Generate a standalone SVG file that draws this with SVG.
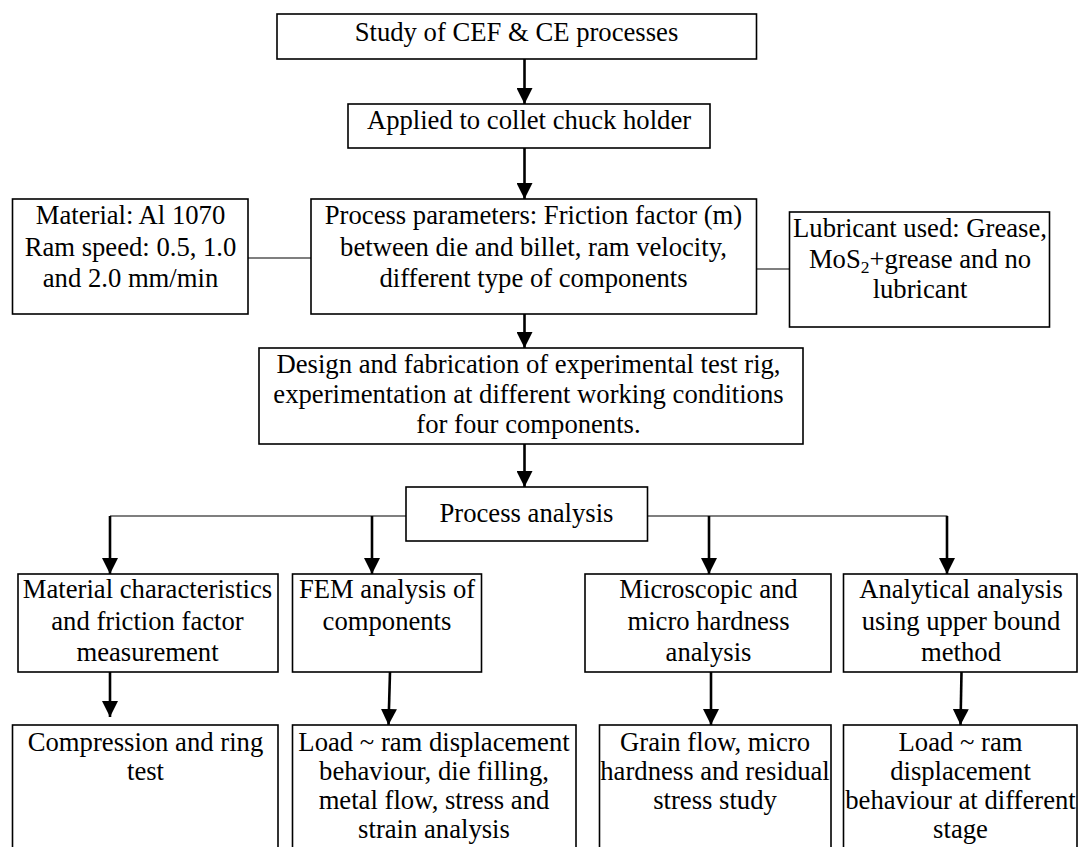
<svg xmlns="http://www.w3.org/2000/svg" width="1081" height="847" viewBox="0 0 1081 847">
<defs>
<style>
.box{fill:#fff;stroke:#000;stroke-width:1.6}
.t{font-family:"Liberation Serif","Times New Roman",serif;font-size:26.67px;fill:#000;text-anchor:middle}
.ln{fill:none;stroke:#000;stroke-width:1.2}
.ar{fill:none;stroke:#000;stroke-width:2.6;marker-end:url(#ah)}
</style>
<marker id="ah" markerUnits="userSpaceOnUse" markerWidth="16" markerHeight="16" viewBox="0 0 16 16" refX="16" refY="8" orient="auto">
<path d="M0,0 L16,8 L0,16 Z" fill="#000"/>
</marker>
</defs>
<rect width="1081" height="847" fill="#fff"/>
<g id="connectors">
<line class="ar" x1="524.5" y1="59" x2="524.5" y2="104"/>
<line class="ar" x1="524.5" y1="148" x2="524.5" y2="199"/>
<line class="ar" x1="524.5" y1="314" x2="524.5" y2="348"/>
<line class="ar" x1="524.5" y1="444" x2="524.5" y2="487"/>
<line class="ln" x1="248" y1="258" x2="311" y2="258"/>
<line class="ln" x1="756" y1="269" x2="789.5" y2="269"/>
<line class="ln" x1="406" y1="516" x2="110" y2="516"/>
<line class="ln" x1="647" y1="516" x2="947.5" y2="516"/>
<line class="ar" x1="110" y1="516" x2="110" y2="574"/>
<line class="ar" x1="372" y1="516" x2="372" y2="574"/>
<line class="ar" x1="709" y1="516" x2="709" y2="574"/>
<line class="ar" x1="947" y1="516" x2="947" y2="574"/>
<line class="ar" x1="110" y1="672" x2="110" y2="717"/>
<line class="ar" x1="390" y1="672" x2="388.5" y2="725"/>
<line class="ar" x1="711" y1="672" x2="711" y2="725"/>
<line class="ar" x1="961.5" y1="672" x2="960.5" y2="725"/>
</g>
<g id="n1"><rect class="box" x="277" y="14" width="479.5" height="45"/><text class="t" x="516.5" y="41">Study of CEF &amp; CE processes</text></g>
<g id="n2"><rect class="box" x="348" y="104" width="362" height="44"/><text class="t" x="529" y="129">Applied to collet chuck holder</text></g>
<g id="n3"><rect class="box" x="12.5" y="199" width="235.5" height="115"/>
<text class="t" x="130.5" y="224">Material: Al 1070</text>
<text class="t" x="130.5" y="256">Ram speed: 0.5, 1.0</text>
<text class="t" x="130.5" y="287">and 2.0 mm/min</text></g>
<g id="n4"><rect class="box" x="311" y="199" width="445.5" height="115"/>
<text class="t" x="533.5" y="224">Process parameters: Friction factor (m)</text>
<text class="t" x="533.5" y="256">between die and billet, ram velocity,</text>
<text class="t" x="533.5" y="287">different type of components</text></g>
<g id="n5"><rect class="box" x="789.5" y="212" width="260" height="115"/>
<text class="t" x="920" y="237">Lubricant used: Grease,</text>
<text class="t" x="920" y="268">MoS<tspan font-size="17.5" dy="5">2</tspan><tspan dy="-5">+grease and no</tspan></text>
<text class="t" x="920" y="298">lubricant</text></g>
<g id="n6"><rect class="box" x="259" y="348" width="544" height="96"/>
<text class="t" x="528.5" y="373">Design and fabrication of experimental test rig,</text>
<text class="t" x="528.5" y="403">experimentation at different working conditions</text>
<text class="t" x="528.5" y="433">for four components.</text></g>
<g id="n7"><rect class="box" x="406" y="487" width="241.5" height="54"/>
<text class="t" x="526.5" y="522">Process analysis</text></g>
<g id="n8"><rect class="box" x="18" y="574" width="260" height="98"/>
<text class="t" x="147.5" y="598">Material characteristics</text>
<text class="t" x="147.5" y="630">and friction factor</text>
<text class="t" x="147.5" y="661">measurement</text></g>
<g id="n9"><rect class="box" x="292.5" y="574" width="189" height="98"/>
<text class="t" x="387" y="598">FEM analysis of</text>
<text class="t" x="387" y="630">components</text></g>
<g id="n10"><rect class="box" x="585" y="574" width="246" height="98"/>
<text class="t" x="708.5" y="598">Microscopic and</text>
<text class="t" x="708.5" y="630">micro hardness</text>
<text class="t" x="708.5" y="661">analysis</text></g>
<g id="n11"><rect class="box" x="843.5" y="574" width="233.5" height="98"/>
<text class="t" x="961" y="598">Analytical analysis</text>
<text class="t" x="961" y="630">using upper bound</text>
<text class="t" x="961" y="661">method</text></g>
<g id="n12"><rect class="box" x="12.5" y="725" width="265.5" height="130"/>
<text class="t" x="145.5" y="751">Compression and ring</text>
<text class="t" x="145.5" y="780">test</text></g>
<g id="n13"><rect class="box" x="292.5" y="725" width="283.5" height="130"/>
<text class="t" x="434" y="751">Load ~ ram displacement</text>
<text class="t" x="434" y="780">behaviour, die filling,</text>
<text class="t" x="434" y="809">metal flow, stress and</text>
<text class="t" x="434" y="838">strain analysis</text></g>
<g id="n14"><rect class="box" x="599.5" y="725" width="231.5" height="130"/>
<text class="t" x="715" y="751">Grain flow, micro</text>
<text class="t" x="715" y="780">hardness and residual</text>
<text class="t" x="715" y="809">stress study</text></g>
<g id="n15"><rect class="box" x="843.5" y="725" width="233.5" height="130"/>
<text class="t" x="960.5" y="751">Load ~ ram</text>
<text class="t" x="960.5" y="780">displacement</text>
<text class="t" x="960.5" y="809">behaviour at different</text>
<text class="t" x="960.5" y="838">stage</text></g>
</svg>
